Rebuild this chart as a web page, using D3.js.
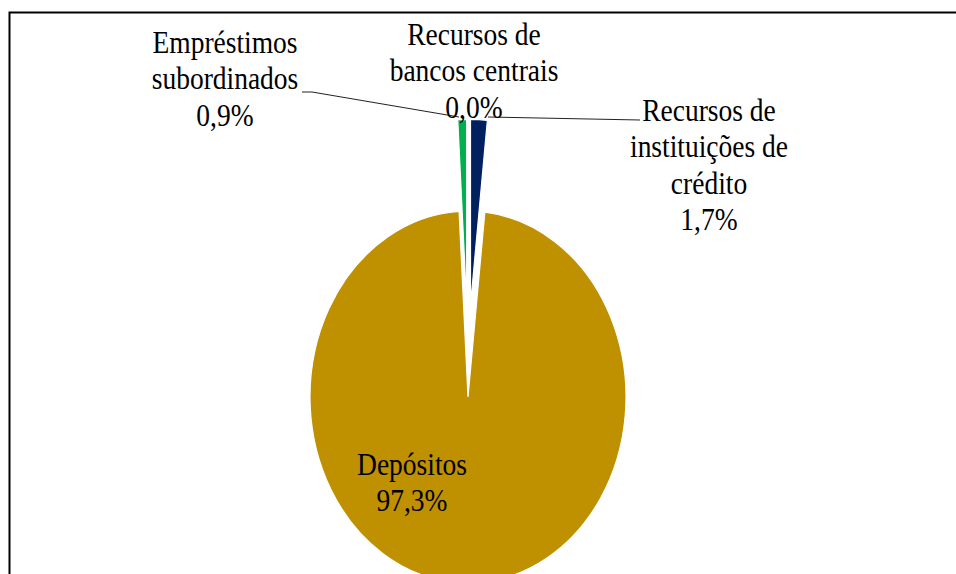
<!DOCTYPE html>
<html>
<head>
<meta charset="utf-8">
<script src="https://cdn.jsdelivr.net/npm/d3@7"></script>
<style>
  body { margin: 0; background: #fff; }
  svg { display: block; }
</style>
</head>
<body>
<svg id="chart" width="956" height="574"></svg>
<script>
// data (clockwise from 12 o'clock)
const categories = [
  'Recursos de bancos centrais',
  'Recursos de instituições de crédito',
  'Depósitos',
  'Empréstimos subordinados'
];
const values = [0.0, 1.7, 97.3, 0.9];
const colors = ['#7f7f7f', '#002060', '#bf9000', '#00b050'];
// how each category name is wrapped in its label
const labelLines = [
  ['Recursos de', 'bancos centrais'],
  ['Recursos de', 'instituições de', 'crédito'],
  ['Depósitos'],
  ['Empréstimos', 'subordinados']
];
const exploded = [true, true, false, true];

const width = 956, height = 574;
const cx = 468, cy = 397;       // apex of the big slice
const radius = 158;
const stretch = 1.177;          // the original picture is stretched vertically
const explodeDist = 78;

const svg = d3.select('#chart');

// frame (only top and left edge are visible)
svg.append('path')
  .attr('d', `M9.5,${height} V12.5 H${width}`)
  .attr('fill', 'none')
  .attr('stroke', '#000')
  .attr('stroke-width', 2);

const pie = d3.pie().sort(null).value(d => d.value)
  .startAngle(0).endAngle(2 * Math.PI);

const arc = d3.arc().innerRadius(0).outerRadius(radius);

const data = categories.map((c, i) => ({
  name: c, value: values[i], color: colors[i], lines: labelLines[i], explode: exploded[i]
}));
const arcs = pie(data);

const pieGroup = svg.append('g')
  .attr('transform', `translate(${cx},${cy}) scale(1,${stretch})`);

pieGroup.selectAll('path')
  .data(arcs.filter(d => d.data.value > 0))
  .join('path')
  .attr('d', arc)
  .attr('transform', d => {
    if (!d.data.explode) return null;
    const mid = (d.startAngle + d.endAngle) / 2;
    // pulled out mostly upwards, like in the original
    return `translate(${0.6 * explodeDist * Math.sin(mid)},${-explodeDist * Math.cos(mid)})`;
  })
  .attr('fill', d => d.data.color)
  .attr('stroke', '#fff')
  .attr('stroke-width', 1.2);

// leader lines
const leaders = [
  [[302, 92], [312, 92], [459, 117]],
  [[488, 117], [640, 120]]
];
svg.selectAll('.leader')
  .data(leaders)
  .join('path')
  .attr('class', 'leader')
  .attr('d', d3.line())
  .attr('fill', 'none')
  .attr('stroke', '#222')
  .attr('stroke-width', 1);

// label anchors: centre x and first baseline
const labelPos = [
  [474, 45],
  [709, 121],
  [412, 475],
  [225, 53]
];
const fmt = v => v.toFixed(1).replace('.', ',') + '%';

arcs.forEach((d, i) => {
  const [x, y] = labelPos[i];
  const g = svg.append('g')
    .attr('transform', `translate(${x},${y}) scale(1,${stretch})`);
  const text = g.append('text')
    .attr('text-anchor', 'middle')
    .style('font-family', '"Liberation Serif", "Times New Roman", serif')
    .style('font-size', '27.5px')
    .style('fill', '#000');
  const lines = d.data.lines.concat([fmt(d.data.value)]);
  text.selectAll('tspan')
    .data(lines)
    .join('tspan')
    .attr('x', 0)
    .attr('y', (l, j) => j * 31)
    .text(l => l);
});
</script>
</body>
</html>
